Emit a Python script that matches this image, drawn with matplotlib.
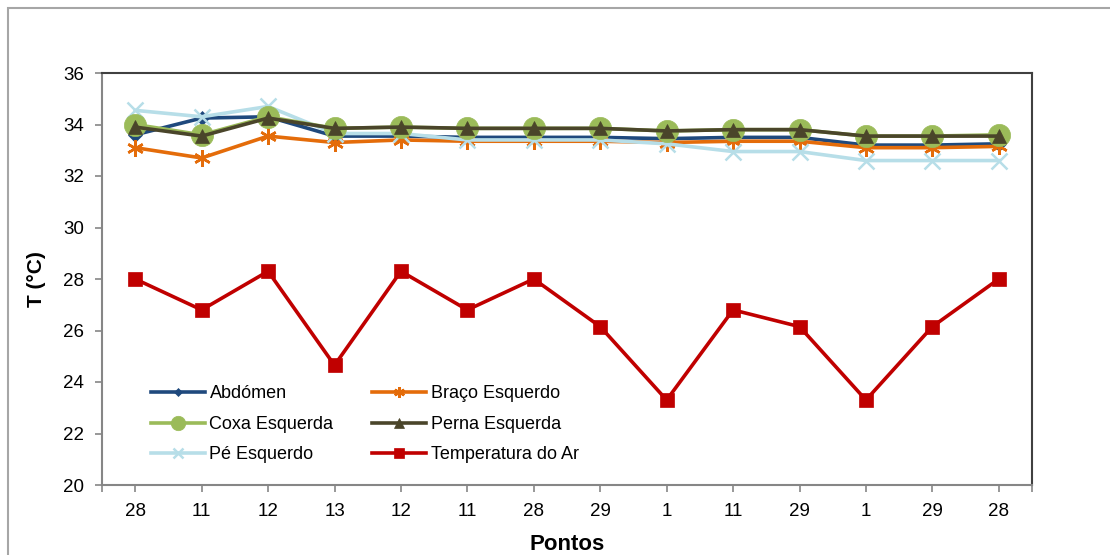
import numpy as np
import matplotlib.pyplot as plt
from matplotlib.patches import Rectangle

plt.rcParams['font.family'] = ['Liberation Sans', 'DejaVu Sans']

pontos = ['28', '11', '12', '13', '12', '11', '28', '29', '1', '11', '29', '1', '29', '28']

abdomen = [33.6, 34.25, 34.3, 33.55, 33.55, 33.5, 33.5, 33.5, 33.45, 33.5, 33.5, 33.2, 33.2, 33.25]
braco = [33.1, 32.7, 33.55, 33.3, 33.4, 33.35, 33.35, 33.35, 33.3, 33.35, 33.35, 33.1, 33.1, 33.15]
coxa = [34.0, 33.6, 34.3, 33.85, 33.9, 33.85, 33.85, 33.85, 33.75, 33.8, 33.8, 33.55, 33.55, 33.6]
perna = [33.9, 33.55, 34.25, 33.85, 33.9, 33.85, 33.85, 33.85, 33.75, 33.8, 33.8, 33.55, 33.55, 33.55]
pe = [34.55, 34.3, 34.7, 33.65, 33.65, 33.4, 33.4, 33.4, 33.25, 32.95, 32.95, 32.6, 32.6, 32.6]
temp_ar = [28.0, 26.8, 28.3, 24.65, 28.3, 26.8, 28.0, 26.15, 23.3, 26.8, 26.15, 23.3, 26.15, 28.0]

series = [
    ('Abdómen', abdomen, '#1F497D', 'D', 7, 3),
    ('Braço Esquerdo', braco, '#E46C0A', (6, 2, 0), 12, 4),
    ('Coxa Esquerda', coxa, '#9BBB59', 'o', 16, 5),
    ('Perna Esquerda', perna, '#4A452A', '^', 10, 6),
    ('Pé Esquerdo', pe, '#B7DEE8', 'x', 11, 4),
    ('Temperatura do Ar', temp_ar, '#C00000', 's', 10, 7),
]

fig = plt.figure(figsize=(11.1, 5.55), dpi=100)
ax = fig.add_axes([102 / 1110, 1 - 485 / 555, 930 / 1110, 412 / 555])

x = np.arange(len(pontos))
lines = []
for name, vals, col, mk, ms, z in series:
    ln, = ax.plot(x, vals, color=col, lw=2.6, marker=mk, markersize=ms,
                  markeredgewidth=1.8 if mk in ('x', (6, 2, 0)) else 0.5,
                  markeredgecolor=col, markerfacecolor=col, label=name, zorder=z)
    lines.append(ln)

ax.set_xlim(-0.5, len(pontos) - 0.5)
ax.set_ylim(20, 36)
ax.set_yticks(np.arange(20, 37, 2))
ax.set_xticks(x)
ax.set_xticklabels(pontos)
ax.set_xticks([-0.5, len(pontos) - 0.5], minor=True)
ax.tick_params(axis='both', which='both', direction='out', length=5,
               color='#868686', labelsize=13.5, width=1.2)
ax.tick_params(axis='x', pad=8)
ax.tick_params(axis='y', pad=8)

for side in ('left', 'bottom'):
    ax.spines[side].set_color('#868686')
    ax.spines[side].set_linewidth(1.5)
for side in ('top', 'right'):
    ax.spines[side].set_color('#404040')
    ax.spines[side].set_linewidth(1.5)

ax.set_ylabel('T (°C)', fontsize=15, fontweight='bold', labelpad=12)
ax.set_xlabel('Pontos', fontsize=16, fontweight='bold', labelpad=10,
              family=['Liberation Sans Narrow', 'Liberation Sans', 'DejaVu Sans'])

# legend filled row by row: two columns
order = [0, 2, 4, 1, 3, 5]
ax.legend([lines[i] for i in order], [series[i][0] for i in order],
          loc='lower left', bbox_to_anchor=(0.035, 0.013), ncol=2, frameon=False,
          fontsize=13, handlelength=3.0, columnspacing=2.15, labelspacing=0.75,
          handletextpad=0.25, markerscale=0.65)

# chart area border
fig.patches.append(Rectangle((8 / 1110, -0.1), 1.2, 1 - 8 / 555 + 0.1,
                             transform=fig.transFigure, fill=False,
                             edgecolor='#A6A6A6', lw=1.5))

fig.savefig('out.png', dpi=100)
